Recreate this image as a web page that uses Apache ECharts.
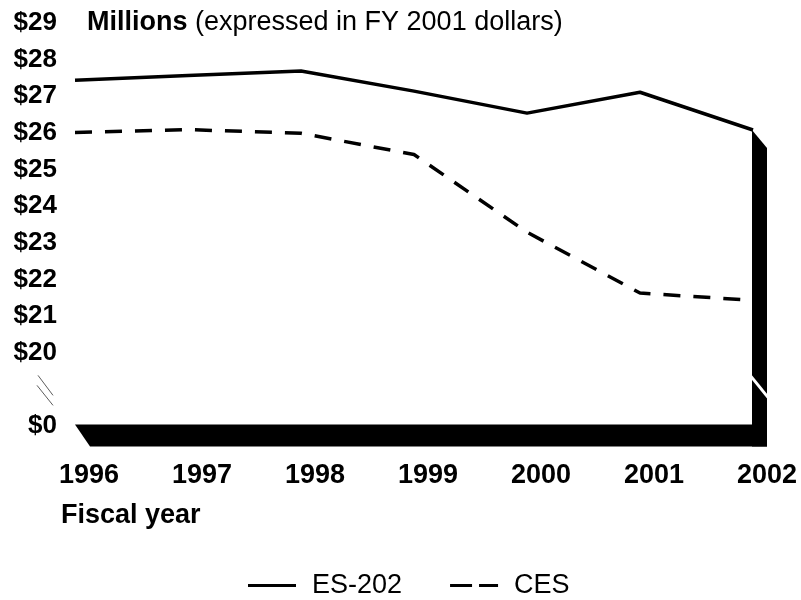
<!DOCTYPE html>
<html>
<head>
<meta charset="utf-8">
<script src="https://cdn.jsdelivr.net/npm/echarts@6.0.0/dist/echarts.min.js"></script>
<style>
  html, body { margin: 0; padding: 0; background: #fff; }
  #main { width: 801px; height: 600px; }
</style>
</head>
<body>
<div id="main"></div>
<script>
// fiscal years on the x axis
var years = ['1996', '1997', '1998', '1999', '2000', '2001', '2002'];
// millions, FY 2001 dollars
var es202 = [27.44, 27.57, 27.69, 27.14, 26.54, 27.11, 26.08];
var ces = [26.01, 26.09, 25.99, 25.41, 23.29, 21.63, 21.43];
// axis runs 18..29; the bottom step stands for $0 (broken axis)
var yMin = 18, yMax = 29;
var tickLabels = ['$0', '', '$20', '$21', '$22', '$23', '$24', '$25', '$26', '$27', '$28', '$29'];

var FONT = "'Liberation Sans', Arial, Helvetica, sans-serif";

var chart = echarts.init(document.getElementById('main'));

chart.setOption({
  animation: false,
  backgroundColor: '#fff',
  textStyle: { fontFamily: FONT, color: '#000' },
  title: [
    {
      text: '{b|Millions} (expressed in FY 2001 dollars)',
      left: 87,
      top: 9,
      padding: 0,
      textStyle: {
        fontFamily: FONT, fontSize: 27, fontWeight: 'normal', color: '#000',
        rich: { b: { fontFamily: FONT, fontSize: 27, fontWeight: 'bold', color: '#000' } }
      }
    },
    {
      text: 'Fiscal year',
      left: 61,
      top: 502,
      padding: 0,
      textStyle: { fontFamily: FONT, fontSize: 27, fontWeight: 'bold', color: '#000' }
    }
  ],
  legend: {
    top: 572,
    left: 248,
    padding: 0,
    itemWidth: 48,
    itemHeight: 3,
    itemGap: 48,
    symbolKeepAspect: false,
    textStyle: { fontFamily: FONT, fontSize: 27, color: '#000', padding: [0, 0, 0, 11] },
    data: [
      { name: 'ES-202', icon: 'rect' },
      { name: 'CES', icon: 'path://M0,0H22V3H0Z M29,0H48V3H29Z' }
    ]
  },
  grid: { left: 75, right: 48, top: 23, bottom: 174, containLabel: false },
  xAxis: {
    type: 'category',
    data: years,
    boundaryGap: false,
    axisLine: { show: false },
    axisTick: { show: false },
    axisLabel: {
      interval: 0,
      margin: 36,
      padding: [0, 0, 0, 28],
      fontFamily: FONT, fontSize: 27, fontWeight: 'bold', color: '#000'
    }
  },
  yAxis: {
    type: 'value',
    min: yMin,
    max: yMax,
    interval: 1,
    axisLine: { show: false },
    axisTick: { show: false },
    splitLine: { show: false },
    axisLabel: {
      margin: 18,
      fontFamily: FONT, fontSize: 26, fontWeight: 'bold', color: '#000',
      formatter: function (v) { return tickLabels[v - yMin]; }
    }
  },
  series: [
    {
      name: 'ES-202',
      type: 'line',
      data: es202,
      symbol: 'none',
      lineStyle: { color: '#000', width: 3.5 },
      itemStyle: { color: '#000' }
    },
    {
      name: 'CES',
      type: 'line',
      data: ces,
      symbol: 'none',
      lineStyle: { color: '#000', width: 3.5, type: [17, 13] },
      itemStyle: { color: '#000' }
    }
  ]
});

// decorative 3-D base and right wall, placed from the grid's own scale
var last = years.length - 1;
var p0 = chart.convertToPixel({ gridIndex: 0 }, [0, yMin]);
var pN = chart.convertToPixel({ gridIndex: 0 }, [last, yMin]);
var pTop = chart.convertToPixel({ gridIndex: 0 }, [last, es202[last]]);
var p19 = chart.convertToPixel({ gridIndex: 0 }, [0, yMin + 1]);
var depth = 15, barH = 22;
var xl = p0[0], yb = p0[1] - 1.5, xr = pN[0] - 1;

chart.setOption({
  graphic: [
    {
      type: 'polygon', z: 100,
      shape: { points: [[xl, yb], [xr + depth, yb], [xr + depth, yb + barH], [xl + depth, yb + barH]] },
      style: { fill: '#000' }
    },
    {
      type: 'polygon', z: 100,
      shape: { points: [[xr, pTop[1]], [xr + depth, pTop[1] + 18], [xr + depth, yb + barH], [xr, yb + barH]] },
      style: { fill: '#000' }
    },
    {
      type: 'line', z: 101,
      shape: { x1: xr - 1, y1: p19[1] - 13, x2: xr + depth + 1, y2: p19[1] + 8 },
      style: { stroke: '#fff', lineWidth: 3 }
    },
    {
      type: 'line', z: 101,
      shape: { x1: xl - 37, y1: p19[1] - 14, x2: xl - 22, y2: p19[1] + 6 },
      style: { stroke: '#333', lineWidth: 0.8 }
    },
    {
      type: 'line', z: 101,
      shape: { x1: xl - 38, y1: p19[1] - 4, x2: xl - 22, y2: p19[1] + 16 },
      style: { stroke: '#333', lineWidth: 0.8 }
    }
  ]
});
</script>
</body>
</html>
